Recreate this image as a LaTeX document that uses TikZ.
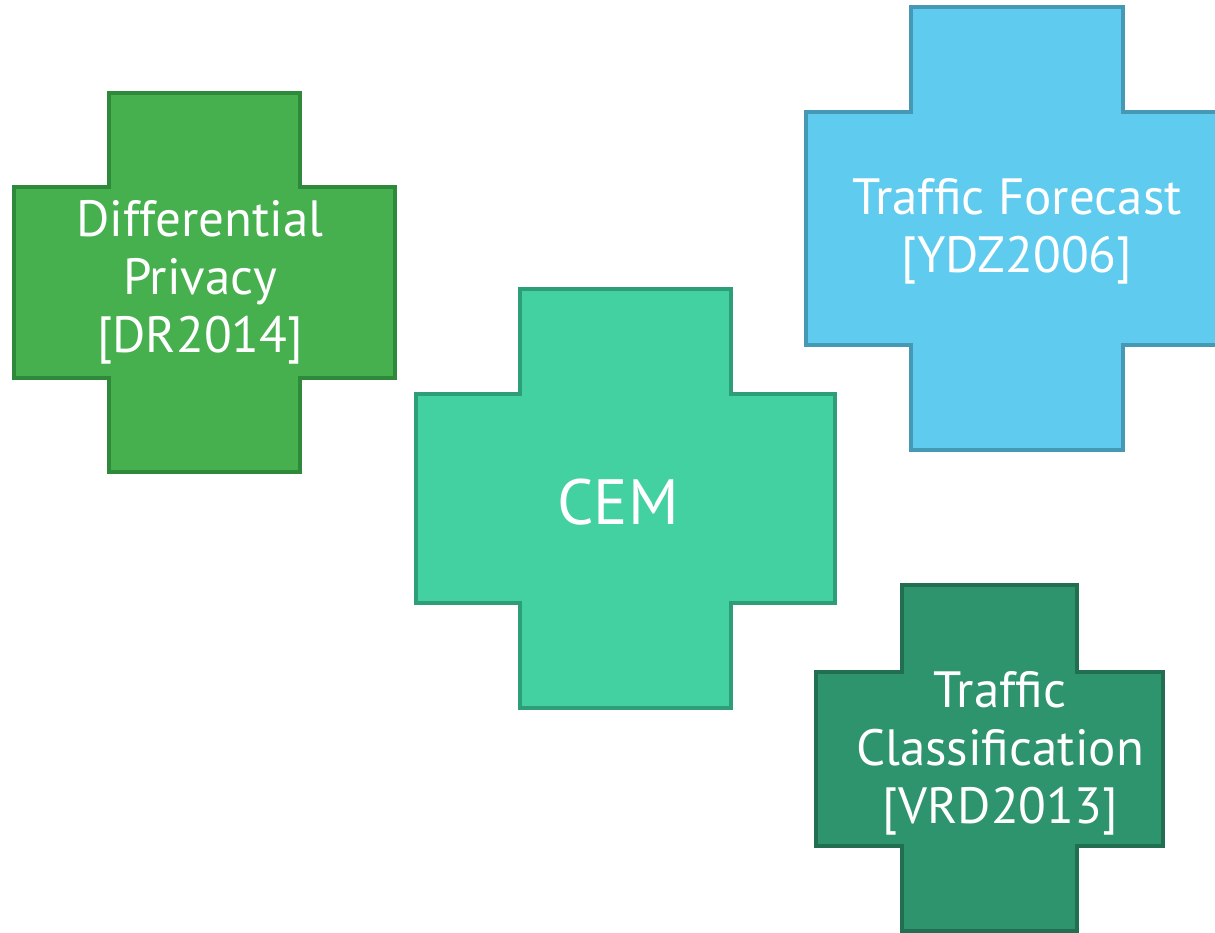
\documentclass[tikz,border=0pt]{standalone}
\usepackage{fontspec}
\setmainfont{PT Sans}
\definecolor{dpfill}{HTML}{46B04F}
\definecolor{dpline}{HTML}{2E8A3A}
\definecolor{cemfill}{HTML}{44D1A1}
\definecolor{cemline}{HTML}{2E9E78}
\definecolor{tffill}{HTML}{5FCBEF}
\definecolor{tfline}{HTML}{4599B5}
\definecolor{tcfill}{HTML}{2E946D}
\definecolor{tcline}{HTML}{226E50}
% #1 style, #2 x1,#3 x2,#4 x3,#5 x4 ; #6 y1,#7 y2,#8 y3,#9 y4
\newcommand\crosspath[9]{%
  \draw[#1] (#2,#7) -- (#3,#7) -- (#3,#6) -- (#4,#6) -- (#4,#7) -- (#5,#7)
    -- (#5,#8) -- (#4,#8) -- (#4,#9) -- (#3,#9) -- (#3,#8) -- (#2,#8) -- cycle;}
\begin{document}
\begin{tikzpicture}[x=1pt,y=-1pt,
  crossbox/.style={line width=4pt},
  lbl/.style={text=white,align=center,font=\fontsize{51}{58}\selectfont,inner sep=0pt}]
\useasboundingbox (0,0) rectangle (1215,932);
\clip (0,0) rectangle (1215,932);
\crosspath{crossbox,fill=dpfill,draw=dpline}{14}{109}{300}{395}{93}{187}{378}{472}
\crosspath{crossbox,fill=cemfill,draw=cemline}{416}{520}{731}{835}{289}{394}{603}{708}
\crosspath{crossbox,fill=tffill,draw=tfline}{806}{911}{1123}{1240}{7}{112}{345}{450}
\crosspath{crossbox,fill=tcfill,draw=tcline}{816}{902}{1077}{1163}{585}{672}{846}{931}
\node[lbl] (dp) at (200,282) {Differential\\Privacy\\{[}DR2014{]}};
\node[lbl,font=\fontsize{64}{70}\selectfont] (cem) at (618,502) {CEM};
\node[lbl] (tf) at (1017,231) {Traffic Forecast\\{[}YDZ2006{]}};
\node[lbl] (tc) at (1000,753) {Traffic\\Classification\\{[}VRD2013{]}};
\end{tikzpicture}
\end{document}
